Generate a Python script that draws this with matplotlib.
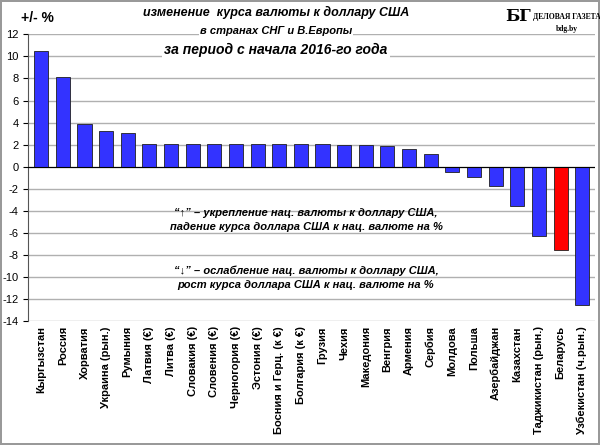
import matplotlib
matplotlib.use("Agg")
import matplotlib.pyplot as plt

countries = ["Кыргызстан","Россия","Хорватия","Украина (рын.)","Румыния","Латвия (€)","Литва (€)",
             "Словакия (€)","Словения (€)","Черногория (€)","Эстония (€)","Босния и Герц. (к €)",
             "Болгария (к €)","Грузия","Чехия","Македония","Венгрия","Армения","Сербия","Молдова",
             "Польша","Азербайджан","Казахстан","Таджикистан (рын.)","Беларусь","Узбекистан (ч.рын.)"]
values = [10.5,8.1,3.85,3.25,3.1,2.1,2.1,2.1,2.1,2.1,2.1,2.1,2.1,2.1,2.0,2.0,1.85,1.6,1.15,
          -0.5,-0.9,-1.7,-3.6,-6.3,-7.5,-12.5]
highlight = "Беларусь"
yticks = list(range(-14, 13, 2))

plt.rcParams['font.family'] = ['Liberation Sans', 'DejaVu Sans']
fig = plt.figure(figsize=(6.0, 4.45), dpi=100)
ax = fig.add_axes([0.047, 0.278, 0.945, 0.645])
colors = ["#ff0000" if c == highlight else "#3333ff" for c in countries]
x = range(len(countries))
ax.bar(x, values, width=0.65, color=colors, edgecolor="#202020", linewidth=0.6, zorder=3)
ax.set_xlim(-0.6, len(countries)-0.4)
ax.set_ylim(-14, 12)
ax.set_yticks(yticks)
ax.set_yticklabels([str(t) for t in yticks], fontsize=8)
ax.grid(axis='y', color="#b0b0b0", linewidth=1, zorder=0)
ax.axhline(0, color="black", linewidth=0.8, zorder=4)
ax.set_xticks(list(x))
ax.set_xticklabels(countries, rotation=90, fontsize=8, fontweight='bold')
ax.tick_params(axis='x', length=0)
for s in ["top", "right"]:
    ax.spines[s].set_visible(False)
ax.spines["bottom"].set_visible(False)
ax.spines["left"].set_color("#555555")

fig.patch.set_edgecolor("#999999")
fig.patch.set_linewidth(1.5)

fig.text(0.035, 0.96, "+/- %", fontsize=10, fontweight='bold', va='center')
fig.text(0.46, 0.972, "изменение  курса валюты к доллару США", fontsize=9, fontweight='bold',
         style='italic', ha='center', va='center', bbox=dict(fc='white', ec='none', pad=1))
fig.text(0.46, 0.93, "в странах СНГ и В.Европы", fontsize=8, fontweight='bold',
         style='italic', ha='center', va='center', bbox=dict(fc='white', ec='none', pad=1))
fig.text(0.46, 0.888, "за период с начала 2016-го года", fontsize=10, fontweight='bold',
         style='italic', ha='center', va='center', bbox=dict(fc='white', ec='none', pad=2))
fig.text(0.885, 0.962, "БГ", fontsize=12, fontweight='bold', family='DejaVu Serif', ha='right', va='center')
fig.text(0.888, 0.962, "ДЕЛОВАЯ ГАЗЕТА", fontsize=5.5, fontweight='bold', family='Liberation Serif', va='center')
fig.text(0.945, 0.935, "bdg.by", fontsize=5.5, fontweight='bold', family='Liberation Serif', ha='center', va='center')

fig.text(0.51, 0.505, "“↑” – укрепление нац. валюты к доллару США,\nпадение курса доллара США к нац. валюте на %",
         fontsize=8, style='italic', fontweight='bold', ha='center', va='center', linespacing=1.5)
fig.text(0.51, 0.375, "“↓” – ослабление нац. валюты к доллару США,\nрост курса доллара США к нац. валюте на %",
         fontsize=8, style='italic', fontweight='bold', ha='center', va='center', linespacing=1.5)

fig.savefig("out.png", dpi=100, edgecolor=fig.get_edgecolor())
